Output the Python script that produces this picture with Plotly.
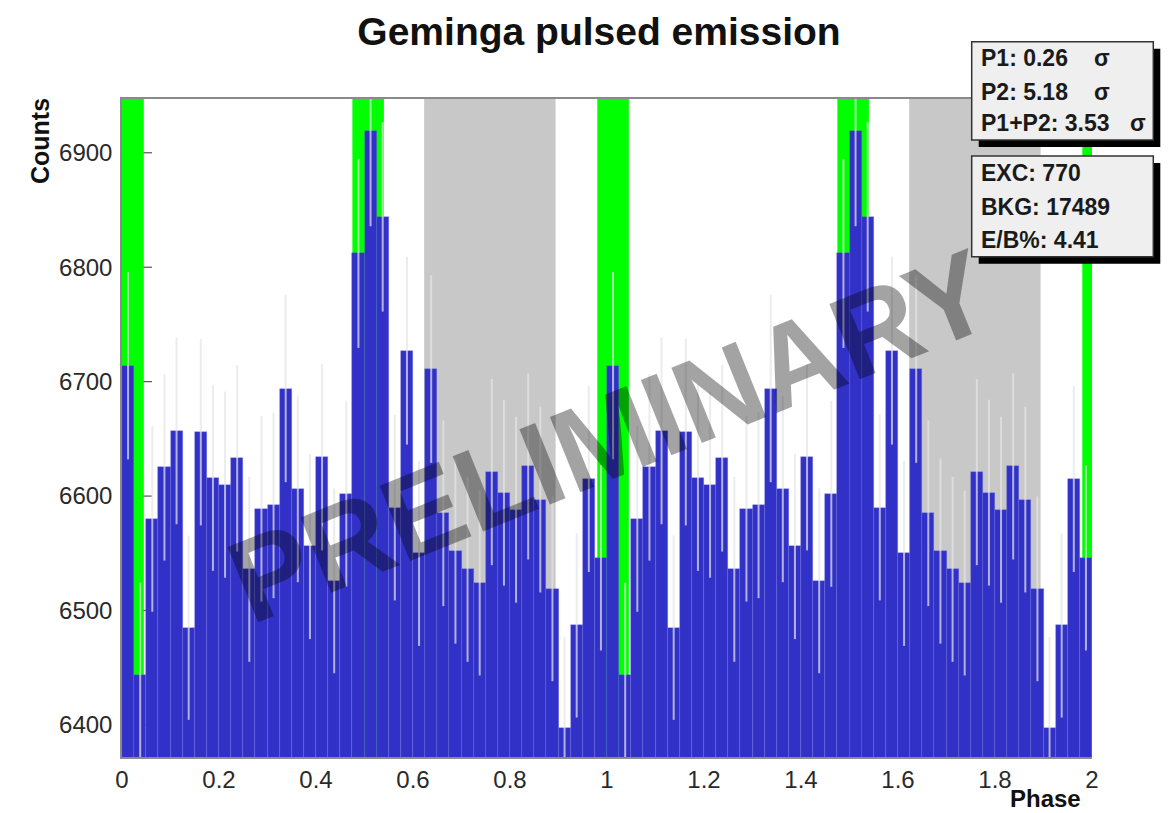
import numpy as np
import plotly.graph_objects as go

# Phaseogram counts for one rotation (40 bins, width 0.025 in phase)
counts_one_cycle = [
    6714, 6444, 6580, 6625, 6657, 6485, 6656, 6616, 6610, 6633,
    6536, 6589, 6592, 6694, 6606, 6556, 6634, 6526, 6602, 6812,
    6919, 6844, 6590, 6727, 6550, 6711, 6585, 6552, 6536, 6524,
    6621, 6603, 6588, 6626, 6597, 6519, 6397, 6487, 6615, 6546,
]
bin_width = 0.025
n_cycles = 2

# Phase windows: P1 / P2 signal regions and the off-pulse background region
p1_window = (0.98, 1.045)
p2_window = (0.475, 0.54)
bkg_window = (0.623, 0.894)

# Summary figures shown in the two boxes
sig_lines = [("P1: 0.26", "σ"), ("P2: 5.18", "σ"), ("P1+P2: 3.53", "σ")]
exc_lines = ["EXC: 770", "BKG: 17489", "E/B%: 4.41"]

y_ticks = [6400, 6500, 6600, 6700, 6800, 6900]
x_ticks = [0, 0.2, 0.4, 0.6, 0.8, 1, 1.2, 1.4, 1.6, 1.8, 2]
x_tick_text = ["0", "0.2", "0.4", "0.6", "0.8", "1", "1.2", "1.4", "1.6", "1.8", "2"]
y_range = [6372, 6947]

# Two rotations are shown side by side
counts = np.array(counts_one_cycle * n_cycles, dtype=float)
centers = (np.arange(len(counts)) + 0.5) * bin_width
errors = np.sqrt(counts)

W_FIG, H_FIG = 1171, 813
L, R, T, B = 122, 1092, 99, 757
PW, PH = R - L, B - T


def px(x):
    return (x - L) / PW


def py(y):
    return (B - y) / PH


FONT = "Liberation Sans, Arial, Helvetica, sans-serif"
BLUE = "#3131c8"
GREEN = "#00ff00"
GREY_BAND = "#c8c8c8"

fig = go.Figure()
fig.add_trace(go.Bar(
    x=centers, y=counts, width=bin_width,
    marker=dict(color=BLUE, line=dict(color="rgba(110,110,225,0.55)", width=0.6)),
    error_y=dict(type="data", array=errors, color="rgba(228,228,228,0.72)",
                 thickness=2, width=0),
    hoverinfo="x+y",
))

shapes = []
# y tick marks sit underneath the phase bands, as in ROOT
for v in y_ticks:
    shapes.append(dict(type="line", xref="x domain", yref="y", x0=0, x1=30 / PW,
                       y0=v, y1=v, line=dict(color="#555", width=1.2), layer="below"))

# Background window in each rotation
for c in range(n_cycles):
    shapes.append(dict(type="rect", xref="x", yref="paper",
                       x0=bkg_window[0] + c, x1=bkg_window[1] + c, y0=0, y1=1,
                       fillcolor=GREY_BAND, line=dict(width=0), layer="below"))

# Signal windows (P1 wraps around phase 0)
sig_spans = []
for lo, hi in (p1_window, p2_window):
    for c in range(-1, n_cycles + 1):
        a, b = lo + c, hi + c
        a, b = max(a, 0), min(b, n_cycles)
        if b > a:
            sig_spans.append((a, b))
for a, b in sig_spans:
    shapes.append(dict(type="rect", xref="x", yref="paper", x0=a, x1=b, y0=0, y1=1,
                       fillcolor=GREEN, line=dict(width=0), layer="below"))

# Stats boxes with drop shadows
boxes = [((971.7, 41.7, 1153.3, 140.0)), ((971.7, 156.0, 1153.3, 256.7))]
for (x0, y0, x1, y1) in boxes:
    shapes.append(dict(type="rect", xref="paper", yref="paper",
                       x0=px(x0 + 7), x1=px(x1 + 7), y0=py(y0 + 7), y1=py(y1 + 7),
                       fillcolor="#000", line=dict(width=0), layer="above"))
    shapes.append(dict(type="rect", xref="paper", yref="paper",
                       x0=px(x0), x1=px(x1), y0=py(y0), y1=py(y1),
                       fillcolor="#efefef", line=dict(color="#333", width=1.5), layer="above"))

annotations = []
box_font = dict(family=FONT, size=23, color="#1a1a1a", weight="bold")
sig_y = [58.3, 91.7, 123.3]
sigma_x = [1102, 1102, 1138]
for (txt, sym), yy, sx in zip(sig_lines, sig_y, sigma_x):
    annotations.append(dict(text=txt, xref="paper", yref="paper", x=px(979), y=py(yy),
                            xanchor="left", yanchor="middle", showarrow=False, font=box_font))
    annotations.append(dict(text=sym, xref="paper", yref="paper", x=px(sx), y=py(yy),
                            xanchor="center", yanchor="middle", showarrow=False, font=box_font))
for txt, yy in zip(exc_lines, [173.3, 206.7, 240.0]):
    annotations.append(dict(text=txt, xref="paper", yref="paper", x=px(979), y=py(yy),
                            xanchor="left", yanchor="middle", showarrow=False, font=box_font))

# Axis titles
annotations.append(dict(text="Counts", xref="paper", yref="paper", x=px(40), y=py(96),
                        xanchor="center", yanchor="top", textangle=-90, showarrow=False,
                        font=dict(family=FONT, size=25, color="#111", weight="bold")))
annotations.append(dict(text="Phase", xref="paper", yref="paper", x=px(1083), y=py(798),
                        xanchor="right", yanchor="middle", showarrow=False,
                        font=dict(family=FONT, size=24, color="#111", weight="bold")))

# Watermark
annotations.append(dict(text="PRELIMINARY", xref="paper", yref="paper", x=px(610), y=py(436),
                        xanchor="center", yanchor="middle", textangle=-22, showarrow=False,
                        font=dict(family=FONT, size=118, color="rgba(0,0,0,0.36)", weight="bold")))

fig.update_layout(
    width=W_FIG, height=H_FIG,
    margin=dict(l=L, r=W_FIG - R, t=T, b=H_FIG - B, pad=0),
    paper_bgcolor="white", plot_bgcolor="white",
    bargap=0, showlegend=False,
    title=dict(text="Geminga pulsed emission", x=599 / W_FIG, xanchor="center",
               y=1 - 31 / H_FIG, yanchor="middle",
               font=dict(family=FONT, size=39, color="#111", weight="bold")),
    xaxis=dict(range=[0, n_cycles], tickvals=x_ticks, ticktext=x_tick_text,
               ticks="", showgrid=False, zeroline=False,
               showline=True, linecolor="#8a8a8a", linewidth=2, mirror=True,
               tickfont=dict(family=FONT, size=24, color="#2a2a2a"),
               ticklabelstandoff=0),
    yaxis=dict(range=y_range, tickvals=y_ticks, ticks="", showgrid=False, zeroline=False,
               showline=True, linecolor="#8a8a8a", linewidth=1.5,
               tickfont=dict(family=FONT, size=24, color="#2a2a2a"),
               ticklabelstandoff=3),
    shapes=shapes, annotations=annotations,
)

fig.write_html("out.html")
